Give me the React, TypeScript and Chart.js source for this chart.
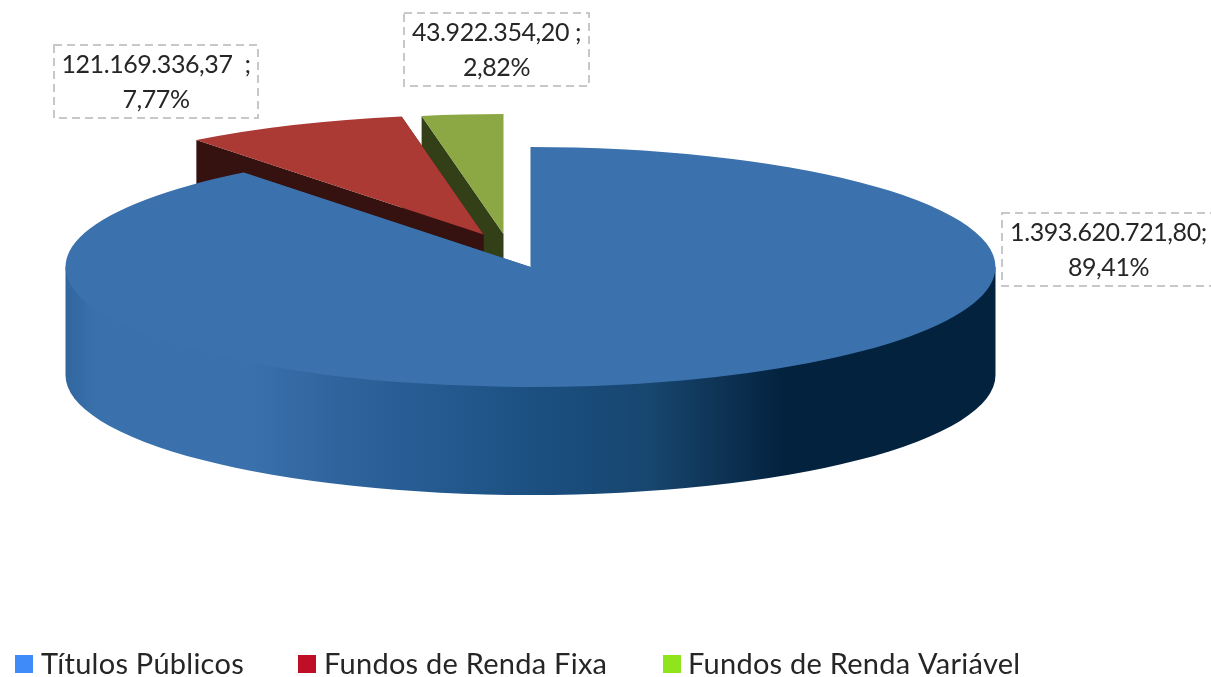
import React, { useEffect, useRef } from "react";
import { Chart, registerables } from "chart.js";

Chart.register(...registerables);

const categories = ["Títulos Públicos", "Fundos de Renda Fixa", "Fundos de Renda Variável"];
const values = [1393620721.8, 121169336.37, 43922354.2];
const valueLabels = ["1.393.620.721,80;", "121.169.336,37  ;", "43.922.354,20 ;"];
const percentLabels = ["89,41%", "7,77%", "2,82%"];

const topColors = ["#3B72AD", "#AB3A35", "#8BA844"];
const wallColors = ["#02223E", "#35110F", "#333F17"];
const legendColors = ["#3F8BFA", "#BE0F26", "#8FE51C"];

const FONT = "Lato, Carlito, sans-serif";
const PIE = { cx: 530.5, cy: 267, rx: 465, ry: 120, depth: 108 };
const explode = [{ x: 0, y: 0 }, { x: -47, y: -32.5 }, { x: -27, y: -33 }];
const boxes = [
  { l: 1002, t: 213, r: 1216, b: 286 },
  { l: 54, t: 45, r: 258, b: 118 },
  { l: 404, t: 13, r: 589, b: 86 },
];
const legendLayout = [
  { box: 15, text: 41 },
  { box: 298, text: 324 },
  { box: 663, text: 688 },
];

const norm = (a: number) => {
  const t = Math.PI * 2;
  return ((a % t) + t) % t;
};

const pie3d = {
  id: "pie3d",
  beforeDatasetsDraw(chart: any) {
    const ctx = chart.ctx;
    const meta = chart.getDatasetMeta(0);
    const { cx, cy, rx, ry, depth } = PIE;
    [2, 1, 0].forEach((i) => {
      const arc = meta.data[i];
      const ox = cx + explode[i].x;
      const oy = cy + explode[i].y;
      const wall = (() => {
        if (i !== 0) return wallColors[i];
        const g = ctx.createLinearGradient(cx - rx, 0, cx + rx, 0);
        const stops: [number, string][] = [
          [66, "#31669E"], [95, "#3A71AC"], [250, "#3A71AC"], [340, "#2F639C"],
          [440, "#245A90"], [540, "#1B4F80"], [650, "#17466F"], [720, "#0E3355"],
          [785, "#02223E"], [995, "#02223E"],
        ];
        stops.forEach(([x, c]) => g.addColorStop(Math.min(1, (x - 65.5) / (2 * rx)), c));
        return g;
      })();
      ctx.save();
      ctx.fillStyle = wall;
      const edge = (a: number) => {
        ctx.beginPath();
        ctx.moveTo(ox, oy);
        ctx.lineTo(ox + rx * Math.cos(a), oy + ry * Math.sin(a));
        ctx.lineTo(ox + rx * Math.cos(a), oy + ry * Math.sin(a) + depth);
        ctx.lineTo(ox, oy + depth);
        ctx.closePath();
        ctx.fill();
      };
      edge(arc.startAngle);
      edge(arc.endAngle);
      // front rim: only the part of the slice that faces the viewer
      const s = norm(arc.startAngle);
      const e = s + (arc.endAngle - arc.startAngle);
      [[0, Math.PI], [Math.PI * 2, Math.PI * 3]].forEach(([a, b]) => {
        const from = Math.max(a, s);
        const to = Math.min(b, e);
        if (to <= from) return;
        ctx.beginPath();
        ctx.ellipse(ox, oy + depth, rx, ry, 0, from, to);
        ctx.lineTo(ox + rx * Math.cos(to), oy + ry * Math.sin(to));
        ctx.lineTo(ox + rx * Math.cos(from), oy + ry * Math.sin(from));
        ctx.closePath();
        ctx.fill();
      });
      ctx.restore();

      ctx.save();
      ctx.translate(ox, oy);
      ctx.scale(rx / arc.outerRadius, ry / arc.outerRadius);
      ctx.translate(-arc.x, -arc.y);
      arc.draw(ctx);
      ctx.restore();
    });
    return false;
  },
  afterDraw(chart: any) {
    const ctx = chart.ctx;
    ctx.save();
    // data label boxes
    boxes.forEach((b, i) => {
      ctx.strokeStyle = "#C8C8C8";
      ctx.lineWidth = 2;
      ctx.setLineDash([8, 5]);
      ctx.strokeRect(b.l, b.t, b.r - b.l, b.b - b.t);
      ctx.setLineDash([]);
      ctx.fillStyle = "#262626";
      ctx.font = `25px ${FONT}`;
      ctx.letterSpacing = "-0.42px";
      ctx.textAlign = "center";
      ctx.textBaseline = "alphabetic";
      const mid = i === 0 ? 1108.5 : (b.l + b.r) / 2;
      ctx.fillText(valueLabels[i], mid, b.t + 28);
      ctx.fillText(percentLabels[i], mid, b.t + 63);
    });
    // legend
    ctx.font = `29px ${FONT}`;
    ctx.letterSpacing = "0.25px";
    ctx.textAlign = "left";
    chart.data.labels.forEach((label: string, i: number) => {
      ctx.fillStyle = legendColors[i];
      ctx.fillRect(legendLayout[i].box, 655, 18, 18);
      ctx.fillStyle = "#262626";
      ctx.fillText(label, legendLayout[i].text, 674);
    });
    ctx.restore();
  },
};

export default function App() {
  const ref = useRef<HTMLCanvasElement>(null);
  useEffect(() => {
    document.body.style.margin = "0";
    const chart = new Chart(ref.current as HTMLCanvasElement, {
      type: "pie",
      data: {
        labels: categories,
        datasets: [{ data: values, backgroundColor: topColors, borderWidth: 0 }],
      },
      options: {
        responsive: false,
        animation: false,
        plugins: { legend: { display: false }, tooltip: { enabled: false } },
      },
      plugins: [pie3d],
    } as any);
    return () => chart.destroy();
  }, []);
  return <canvas ref={ref} width={1211} height={677} style={{ display: "block" }} />;
}
